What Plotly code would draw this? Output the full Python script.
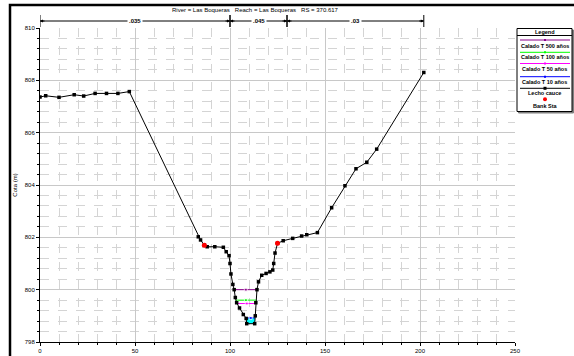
import plotly.graph_objects as go
import numpy as np

# ---- data ----
ground_sta = [0, 3, 10, 18, 23, 29, 35, 41, 47,
              83.3, 84.5, 86.5, 88, 92, 96.5, 98, 99.5, 100, 100.5, 101.5, 102.2,
              102.8, 103.5, 105, 107, 108.5, 108.8, 113, 113.3, 113.6, 114.2,
              115, 116.7, 119, 121, 122.5, 123, 123.7, 125, 128, 133, 137.7,
              140.4, 146, 153.5, 160.5, 166.3, 172, 177.2, 202]
ground_elev = [807.36, 807.41, 807.35, 807.45, 807.40, 807.50, 807.50, 807.50, 807.57,
               802.02, 801.90, 801.70, 801.64, 801.64, 801.62, 801.45, 801.30, 801.00, 800.60, 800.20, 800.00,
               799.70, 799.50, 799.30, 799.05, 798.90, 798.70, 798.70, 799.00, 799.50, 800.00,
               800.30, 800.55, 800.62, 800.68, 800.75, 801.00, 801.40, 801.77, 801.87, 801.96, 802.05,
               802.10, 802.18, 803.13, 803.97, 804.62, 804.87, 805.37, 808.30]

bank_sta = [86.5, 125]
bank_elev = [801.70, 801.77]

ws_names = ["Calado T 500 años", "Calado T 100 años", "Calado T 50 años", "Calado T 10 años"]
ws_elev = [800.00, 799.60, 799.47, 798.92]
ws_left = [102.2, 102.8, 104.0, 108.6]
ws_right = [114.4, 113.9, 113.6, 113.2]
ws_colors = ["#8B008B", "#00ff00", "#ff00ff", "#0000ff"]

n_breaks = [0, 100, 130, 202]
n_values = [".035", ".045", ".03"]

title_text = "River = Las Boqueras   Reach = Las Boqueras   RS = 370.617"

# ---- figure ----
fig = go.Figure()

fill_x = [ws_left[3]] + [s for s in ground_sta if ws_left[3] < s < ws_right[3]] + [ws_right[3]]
fill_ground = list(np.interp(fill_x, ground_sta, ground_elev))
fig.add_trace(go.Scatter(x=fill_x + fill_x[::-1],
                         y=fill_ground + [ws_elev[3]] * len(fill_x),
                         fill="toself", fillcolor="#00ffff", line=dict(width=0),
                         mode="lines", hoverinfo="skip", showlegend=False))

for name, e, l, r, c in zip(ws_names, ws_elev, ws_left, ws_right, ws_colors):
    m = (l + r) / 2
    fig.add_trace(go.Scatter(x=[l, m, r], y=[e, e, e], mode="lines+markers",
                             line=dict(color=c, width=1),
                             marker=dict(size=[0, 3, 0], color=c, symbol="square"),
                             name=name, showlegend=False))

fig.add_trace(go.Scatter(x=ground_sta, y=ground_elev, mode="lines+markers",
                         line=dict(color="black", width=1),
                         marker=dict(size=3.5, color="black", symbol="square"),
                         name="Lecho cauce", showlegend=False))
fig.add_trace(go.Scatter(x=bank_sta, y=bank_elev, mode="markers",
                         marker=dict(size=5, color="red"),
                         name="Bank Sta", showlegend=False))

W, H = 574, 356
L, R, T, B = 40, 59, 28, 14
pw, ph = W - L - R, H - T - B


def px(xp):
    return (xp - L) / pw


def py(yp):
    return (H - B - yp) / ph


shapes = []
annotations = []
FAM = "Liberation Sans, Arial, sans-serif"
fnt = dict(family=FAM, size=6, color="black")
lfnt = dict(family=FAM, size=5.5, color="black")

# outer frame
shapes.append(dict(type="rect", xref="paper", yref="paper", x0=px(10), x1=px(590),
                   y0=py(5), y1=py(370), line=dict(color="black", width=2.5)))

# Manning n brackets
yb = py(21)
for i, nv in enumerate(n_values):
    a, b = n_breaks[i], n_breaks[i + 1]
    shapes.append(dict(type="line", xref="x", yref="paper", x0=a, x1=b, y0=yb, y1=yb,
                       line=dict(color="black", width=1)))
    for s in (a, b):
        shapes.append(dict(type="line", xref="x", yref="paper", x0=s, x1=s,
                           y0=py(15), y1=py(27), line=dict(color="black", width=1)))
    annotations.append(dict(x=a, y=yb, xref="x", yref="paper", ax=6, ay=0, text="",
                            showarrow=True, arrowhead=2, arrowsize=0.6, arrowwidth=1,
                            arrowcolor="black"))
    annotations.append(dict(x=b, y=yb, xref="x", yref="paper", ax=-6, ay=0, text="",
                            showarrow=True, arrowhead=2, arrowsize=0.6, arrowwidth=1,
                            arrowcolor="black"))
    annotations.append(dict(x=(a + b) / 2, y=yb, xref="x", yref="paper", text="<b>" + nv + "</b>",
                            showarrow=False, bgcolor="white", font=fnt, borderpad=1,
                            xanchor="center", yanchor="middle"))

# title
annotations.append(dict(x=px(255), y=py(10), xref="paper", yref="paper", text=title_text,
                        showarrow=False, font=fnt, xanchor="center", yanchor="middle"))

# legend box (drawn manually)
lx0, lx1, ly0, ly1 = 517, 572, 28.5, 111.5
shapes.append(dict(type="rect", xref="paper", yref="paper", x0=px(lx0 + 1.5), x1=px(lx1 + 1.5),
                   y0=py(ly1 + 1.5), y1=py(ly0 + 1.5), line=dict(color="#808080", width=1),
                   fillcolor="#808080", layer="above"))
shapes.append(dict(type="rect", xref="paper", yref="paper", x0=px(lx0), x1=px(lx1),
                   y0=py(ly1), y1=py(ly0), line=dict(color="black", width=1), fillcolor="white",
                   layer="above"))
shapes.append(dict(type="line", xref="paper", yref="paper", x0=px(lx0), x1=px(lx1),
                   y0=py(35.5), y1=py(35.5), line=dict(color="black", width=1)))
lcx = px((lx0 + lx1) / 2)
annotations.append(dict(x=lcx, y=py(32), xref="paper", yref="paper", xanchor="center", yanchor="middle",
                        text="<b>Legend</b>", showarrow=False, font=lfnt))
ent_lines = [40, 52.3, 63.5, 76.7]
ent_text = [45.5, 57, 69.3, 82.3]
for nm, c, yl, yt in zip(ws_names, ws_colors, ent_lines, ent_text):
    shapes.append(dict(type="line", xref="paper", yref="paper", x0=px(520), x1=px(570),
                       y0=py(yl), y1=py(yl), line=dict(color=c, width=1)))
    shapes.append(dict(type="rect", xref="paper", yref="paper", x0=px(544), x1=px(546),
                       y0=py(yl + 1), y1=py(yl - 1), line=dict(color=c, width=0), fillcolor=c))
    annotations.append(dict(x=lcx, y=py(yt), xref="paper", yref="paper", xanchor="center", yanchor="middle",
                            text="<b>" + nm + "</b>", showarrow=False, font=lfnt))
shapes.append(dict(type="line", xref="paper", yref="paper", x0=px(520), x1=px(570),
                   y0=py(88.3), y1=py(88.3), line=dict(color="black", width=1)))
shapes.append(dict(type="rect", xref="paper", yref="paper", x0=px(543.5), x1=px(546.5),
                   y0=py(89.8), y1=py(86.8), line=dict(width=0), fillcolor="black"))
annotations.append(dict(x=lcx, y=py(93), xref="paper", yref="paper", xanchor="center", yanchor="middle",
                        text="<b>Lecho cauce</b>", showarrow=False, font=lfnt))
shapes.append(dict(type="circle", xref="paper", yref="paper", x0=px(543), x1=px(547),
                   y0=py(101.3), y1=py(97.3), line=dict(width=0), fillcolor="red"))
annotations.append(dict(x=lcx, y=py(106), xref="paper", yref="paper", xanchor="center", yanchor="middle",
                        text="<b>Bank Sta</b>", showarrow=False, font=lfnt))

fig.update_layout(
    width=W, height=H, margin=dict(l=L, r=R, t=T, b=B, autoexpand=False),
    paper_bgcolor="white", plot_bgcolor="white",
    shapes=shapes, annotations=annotations, showlegend=False,
    font=fnt,
)
fig.update_xaxes(range=[0, 250], dtick=50, tick0=0, showgrid=True, gridcolor="#c8c8c8", gridwidth=1,
                 showline=True, linecolor="black", linewidth=1, zeroline=False,
                 ticks="outside", ticklen=3, tickcolor="black",
                 tickfont=dict(family=FAM, size=6, color="black"),
                 minor=dict(dtick=10, showgrid=True, gridcolor="#d4d4d4", griddash="dash",
                            ticks="outside", ticklen=2, tickcolor="black"))
fig.update_yaxes(range=[798, 810], dtick=2, tick0=798, showgrid=True, gridcolor="#c8c8c8", gridwidth=1,
                 showline=True, linecolor="black", linewidth=1, zeroline=False,
                 ticks="outside", ticklen=3, tickcolor="black",
                 tickfont=dict(family=FAM, size=6, color="black"),
                 title=dict(text="Cota (m)", font=dict(family=FAM, size=6, color="black"),
                            standoff=6),
                 minor=dict(dtick=0.4, showgrid=True, gridcolor="#d4d4d4", griddash="dash",
                            ticks="outside", ticklen=2, tickcolor="black"))

fig.write_html("out.html", config={"displayModeBar": False},
               post_script="document.body.style.margin='0';document.body.style.overflow='hidden';")
